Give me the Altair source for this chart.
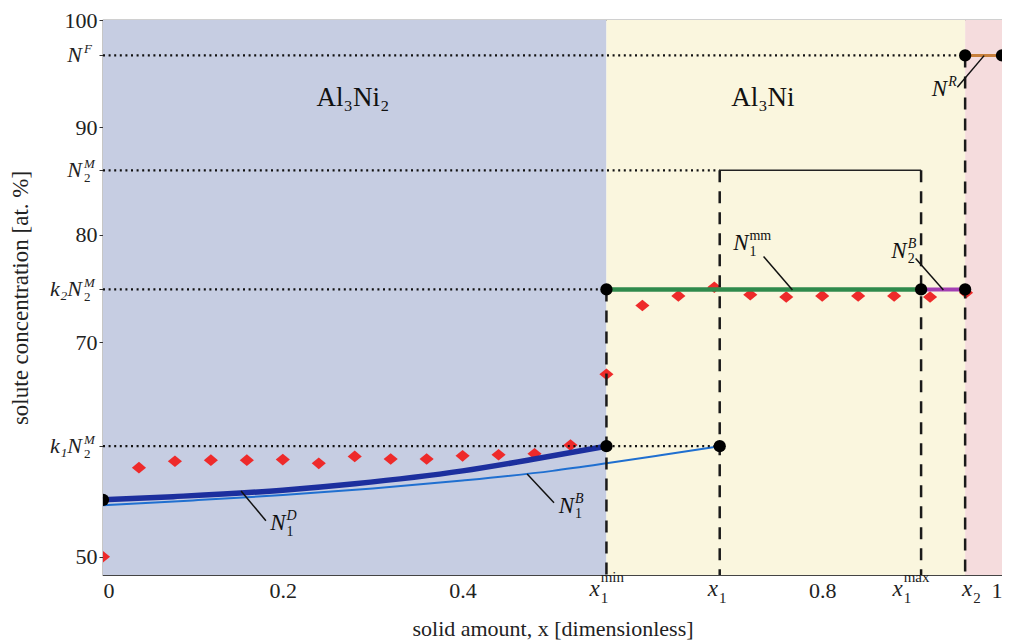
import altair as alt
import pandas as pd

W, H = 899, 555
X_DOMAIN = [0.0, 1.0]
Y_DOMAIN = [48.3, 100.0]
SERIF = "'Liberation Serif', 'Times New Roman', Times, serif"

# key solid amounts and concentration levels
X1MIN, X1, X1MAX, X2 = 0.56, 0.686, 0.91, 0.959
N_F, N2_M, K2N2_M, K1N2_M, N_START = 96.7, 86.0, 74.9, 60.3, 55.3

# phase regions
region_start = [0.0, X1MIN, X2]
region_end = [X1MIN, X2, 1.0]
region_color = ["#c6cde2", "#faf6de", "#f5dcdd"]
phase_label = ["Al\u2083Ni\u2082", "Al\u2083Ni"]
phase_x = [0.278, 0.734]
phase_y = [92.7, 92.7]

# measured concentration (red diamonds)
meas_x = [0.0, 0.04, 0.08, 0.12, 0.16, 0.20, 0.24, 0.28, 0.32, 0.36, 0.40, 0.44, 0.48, 0.52,
          0.56, 0.60, 0.64, 0.68, 0.72, 0.76, 0.80, 0.84, 0.88, 0.92, 0.96]
meas_y = [50.0, 58.3, 58.9, 59.0, 59.0, 59.05, 58.7, 59.35, 59.1, 59.1, 59.4, 59.5, 59.6, 60.4,
          67.0, 73.4, 74.3, 75.1, 74.4, 74.2, 74.3, 74.3, 74.3, 74.2, 74.6]

# N1^D (thick) and N1^B (thin) curves
nd_x = [0.0, 0.078, 0.2, 0.28, 0.40, 0.48, 0.56]
nd_y = [55.3, 55.6, 56.2, 56.8, 58.0, 59.1, 60.3]
nb_x = [0.0, 0.1, 0.2, 0.3, 0.4, 0.5, 0.56, 0.62, 0.686]
nb_y = [54.8, 55.25, 55.75, 56.35, 57.1, 58.0, 58.7, 59.45, 60.3]

# dotted horizontal guides
dotted_y = [N_F, N2_M, K2N2_M, K1N2_M]
dotted_x2 = [X2, X1, X1MIN, X1]
# dashed vertical guides
dash_x = [X1MIN, X1, X1MAX, X2]
dash_top = [K2N2_M, N2_M, N2_M, N_F]
# coloured plateau segments
seg_x = [X1MIN, X1MAX, X2]
seg_x2 = [X1MAX, X2, 1.0]
seg_y = [K2N2_M, K2N2_M, N_F]
seg_color = ["#2f8a4c", "#a340b3", "#c8803c"]
seg_w = [4.5, 4, 3]

# black points
pt_x = [0.0, X1MIN, X1, X1MIN, X1MAX, X2, X2, 1.0]
pt_y = [N_START, K1N2_M, K1N2_M, K2N2_M, K2N2_M, K2N2_M, N_F, N_F]

# annotation leaders and labels
lead_x = [0.1536, 0.4718, 0.7348, 0.9039, 0.9503]
lead_y = [56.13, 57.70, 77.97, 77.79, 93.73]
lead_x2 = [0.1812, 0.5017, 0.7669, 0.9348, 0.9801]
lead_y2 = [53.36, 55.02, 74.84, 74.84, 96.68]
ann_x = [0.203, 0.524, 0.718, 0.894, 0.939]
ann_y = [53.1, 54.75, 79.2, 78.5, 93.6]
ann_sub = ["1", "1", "1", "2", ""]
ann_sup_italic = ["D", "B", "", "B", "R"]
ann_sup_upright = ["", "", "mm", "", ""]

# axis ticks
x_ticks = [0.0, 0.2, 0.4, X1MIN, X1, 0.8, X1MAX, X2, 1.0]
x_special = [X1MIN, X1, X1MAX, X2]
x_special_pos = [0.5525, 0.684, 0.8895, 0.967]
x_special_sub = ["1", "1", "1", "2"]
x_special_sup = ["min", "", "max", ""]
y_ticks = [50, K1N2_M, 70, K2N2_M, 80, N2_M, 90, N_F, 100]
y_special = [K1N2_M, K2N2_M, N2_M, N_F]
y_special_base = ["k\u2081N", "k\u2082N", "N", "N"]
y_special_sub = ["2", "2", "2", ""]
y_special_sup = ["M", "M", "M", "F"]

xs = alt.Scale(domain=X_DOMAIN, nice=False, zero=False)
ys = alt.Scale(domain=Y_DOMAIN, nice=False, zero=False)

x_axis = alt.Axis(
    values=x_ticks, format="~g",
    labelExpr="indexof([" + ",".join(str(v) for v in x_special) + "], datum.value) >= 0 ? '' : datum.label",
    ticks=False, domain=False, grid=False, labelPadding=5,
    labelFont=SERIF, labelFontSize=22, labelColor="#222",
    title="solid amount, x [dimensionless]", titleFont=SERIF, titleFontSize=22,
    titleFontWeight="normal", titleColor="#222", titleY=53, titleBaseline="middle",
)
y_axis = alt.Axis(
    values=y_ticks, format="d",
    labelExpr="datum.value % 10 == 0 ? datum.label : ''",
    tickSize=4, tickColor="#333", domain=False, grid=False, labelPadding=2,
    labelFont=SERIF, labelFontSize=22, labelColor="#222",
    title="solute concentration [at. %]", titleFont=SERIF, titleFontSize=23,
    titleFontWeight="normal", titleColor="#222", titleX=-83, titleY=H / 2,
    titleAngle=270, titleBaseline="middle", titleAlign="center",
)


def X(field):
    return alt.X(field, type="quantitative", scale=xs, axis=x_axis)


def Y(field):
    return alt.Y(field, type="quantitative", scale=ys, axis=y_axis)


regions = pd.DataFrame({"start": region_start, "end": region_end, "color": region_color})
bg = alt.Chart(regions).mark_rect().encode(
    x=X("start"), x2="end",
    y=alt.value(0), y2=alt.value(H),
    color=alt.Color("color:N", scale=None),
)
yaxis_layer = alt.Chart(pd.DataFrame({"v": [Y_DOMAIN[0]]})).mark_point(opacity=0).encode(
    y=Y("v"), x=alt.value(0)
)

phase = alt.Chart(pd.DataFrame({"x": phase_x, "y": phase_y, "t": phase_label})).mark_text(
    font=SERIF, fontSize=27, color="#111", baseline="middle", align="center"
).encode(x=X("x"), y=Y("y"), text="t:N")

diamond = "M-1,0L0,-0.82L1,0L0,0.82Z"
meas = alt.Chart(pd.DataFrame({"x": meas_x, "y": meas_y})).mark_point(
    shape=diamond, filled=True, color="#ee2a2a", size=200, opacity=1, clip=True
).encode(x=X("x"), y=Y("y"))

thin = alt.Chart(pd.DataFrame({"x": nb_x, "y": nb_y})).mark_line(
    color="#1f6fd0", strokeWidth=2, interpolate="monotone"
).encode(x=X("x"), y=Y("y"))
thick = alt.Chart(pd.DataFrame({"x": nd_x, "y": nd_y})).mark_line(
    color="#1c2f9e", strokeWidth=5.5, interpolate="monotone"
).encode(x=X("x"), y=Y("y"))

dotted = alt.Chart(pd.DataFrame({"x": [0.0] * 4, "x2": dotted_x2, "y": dotted_y})).mark_rule(
    color="#111", strokeWidth=2.2, strokeDash=[2, 3.6]
).encode(x=X("x"), x2="x2", y=Y("y"))

solid_n2m = alt.Chart(pd.DataFrame({"x": [X1], "x2": [X1MAX], "y": [N2_M]})).mark_rule(
    color="#222", strokeWidth=1.5
).encode(x=X("x"), x2="x2", y=Y("y"))

dashed = alt.Chart(pd.DataFrame({"x": dash_x, "top": dash_top, "bot": [Y_DOMAIN[0]] * 4})).mark_rule(
    color="#1a1a1a", strokeWidth=2.5, strokeDash=[12, 9]
).encode(x=X("x"), y=Y("top"), y2="bot")

segs = alt.Chart(pd.DataFrame({"x": seg_x, "x2": seg_x2, "y": seg_y, "c": seg_color, "w": seg_w})).mark_rule(
    strokeCap="butt"
).encode(
    x=X("x"), x2="x2", y=Y("y"),
    color=alt.Color("c:N", scale=None), size=alt.Size("w:Q", scale=None),
)

leaders = alt.Chart(pd.DataFrame({"x": lead_x, "y": lead_y, "x2": lead_x2, "y2": lead_y2})).mark_rule(
    color="#111", strokeWidth=1.5
).encode(x=X("x"), y=Y("y"), x2="x2", y2="y2")

points = alt.Chart(pd.DataFrame({"x": pt_x, "y": pt_y})).mark_circle(
    color="#000", size=150, opacity=1, clip=True
).encode(x=X("x"), y=Y("y"))

ann = pd.DataFrame({"x": ann_x, "y": ann_y, "sub": ann_sub,
                    "supi": ann_sup_italic, "supu": ann_sup_upright})
ann_base = alt.Chart(ann).mark_text(
    text="N", font=SERIF, fontStyle="italic", fontSize=23, color="#111", align="right", baseline="middle"
).encode(x=X("x"), y=Y("y"))
ann_sub_l = alt.Chart(ann).mark_text(
    font=SERIF, fontSize=14, color="#111", align="left", baseline="middle", dx=1, dy=8.5
).encode(x=X("x"), y=Y("y"), text="sub:N")
ann_supi_l = alt.Chart(ann).mark_text(
    font=SERIF, fontStyle="italic", fontSize=14, color="#111", align="left", baseline="middle", dx=1, dy=-7
).encode(x=X("x"), y=Y("y"), text="supi:N")
ann_supu_l = alt.Chart(ann).mark_text(
    font=SERIF, fontSize=14, color="#111", align="left", baseline="middle", dx=1, dy=-7.5
).encode(x=X("x"), y=Y("y"), text="supu:N")

ylab = pd.DataFrame({"y": y_special, "base": y_special_base, "sub": y_special_sub, "sup": y_special_sup})
ylab_base = alt.Chart(ylab).mark_text(
    font=SERIF, fontStyle="italic", fontSize=22, color="#222", align="right", baseline="middle"
).encode(x=alt.value(-21), y=Y("y"), text="base:N")
ylab_sub = alt.Chart(ylab).mark_text(
    font=SERIF, fontSize=13, color="#222", align="left", baseline="middle", dx=1, dy=7.5
).encode(x=alt.value(-20), y=Y("y"), text="sub:N")
ylab_sup = alt.Chart(ylab).mark_text(
    font=SERIF, fontStyle="italic", fontSize=13, color="#222", align="left", baseline="middle", dx=1, dy=-6.5
).encode(x=alt.value(-20), y=Y("y"), text="sup:N")

xlab = pd.DataFrame({"x": x_special_pos, "sub": x_special_sub, "sup": x_special_sup})
xlab_base = alt.Chart(xlab).mark_text(
    text="x", font=SERIF, fontStyle="italic", fontSize=23, color="#222", align="right", baseline="alphabetic"
).encode(x=X("x"), y=alt.value(H + 21))
xlab_sub = alt.Chart(xlab).mark_text(
    font=SERIF, fontSize=15, color="#222", align="left", baseline="alphabetic", dx=1
).encode(x=X("x"), y=alt.value(H + 28), text="sub:N")
xlab_sup = alt.Chart(xlab).mark_text(
    font=SERIF, fontSize=15, color="#222", align="left", baseline="alphabetic", dx=1
).encode(x=X("x"), y=alt.value(H + 7), text="sup:N")

chart = alt.layer(
    bg, yaxis_layer, phase, meas, thin, thick, dotted, solid_n2m, dashed, segs, leaders, points,
    ann_base, ann_sub_l, ann_supi_l, ann_supu_l, ylab_base, ylab_sub, ylab_sup,
    xlab_base, xlab_sub, xlab_sup,
).properties(
    width=W, height=H,
    autosize=alt.AutoSizeParams(type="none"),
    padding={"left": 95, "top": 12, "right": 0, "bottom": 68},
    background="white",
).configure_view(stroke="#444", strokeWidth=1.2)

chart.save("out.html", embed_options={"renderer": "svg", "actions": False})
